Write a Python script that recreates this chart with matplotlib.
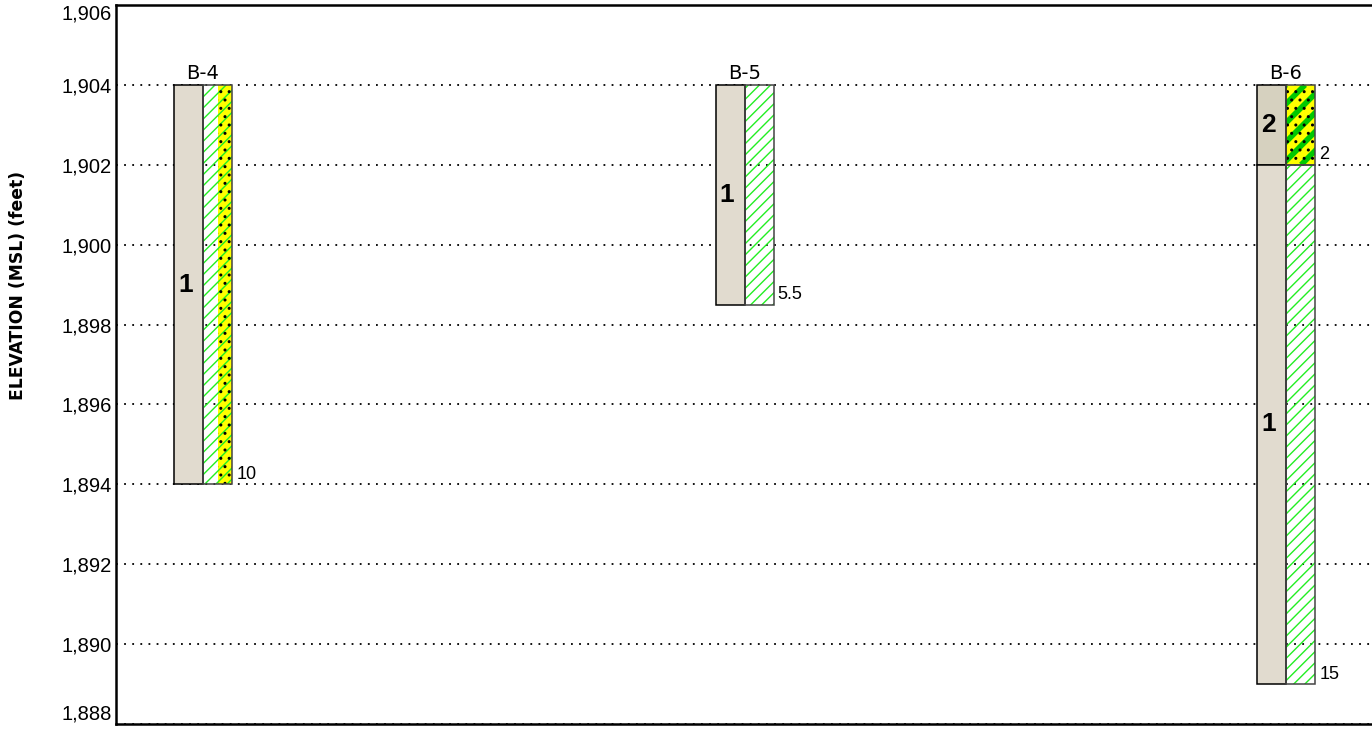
import numpy as np
import matplotlib
matplotlib.use("Agg")
import matplotlib.pyplot as plt
from matplotlib.patches import Rectangle
from matplotlib.ticker import FuncFormatter

# Bohrungen
borings = ["B-4", "B-5", "B-6"]
top_elev = [1904, 1904, 1904]

# Schichten (Stratum-Nummer), Tiefen in ft
strata_top = [[0], [0], [0, 2]]
strata_bottom = [[10], [5.5], [2, 15]]
strata_id = [[1], [1], [2, 1]]

# Bodenarten (Symbolspalte)
soil_top = [[0], [0], [0, 2]]
soil_bottom = [[10], [5.5], [2, 15]]
soil_type = [["CL-SP"], ["CL"], ["SC", "CL"]]

y_ticks = list(range(1888, 1907, 2))

plt.rcParams["hatch.linewidth"] = 1.0

W, H = 1372, 730
fig = plt.figure(figsize=(W / 100, H / 100), dpi=100)
ax_b, ax_t = 1 - 724 / H, 1 - 5 / H
ax = fig.add_axes([116 / W, ax_b, (1400 - 116) / W, ax_t - ax_b])
ax.set_xlim(0, 1284)
ax.set_ylim(1888, 1906)
ppf = (ax_t - ax_b) * H / 18  # Pixel pro Fuss

tan = {1: "#E1DBCF", 2: "#D6D1BF"}
green = "#22EE22"
col_w = 29


def soil_patch(kind, x, y0, y1):
    h = y1 - y0
    if kind == "CL":
        ax.add_patch(Rectangle((x, y0), col_w, h, facecolor="none", edgecolor=green,
                               hatch="///", lw=0, zorder=2))
    elif kind == "CL-SP":
        hw = col_w / 2
        ax.add_patch(Rectangle((x, y0), hw, h, facecolor="none", edgecolor=green,
                               hatch="///", lw=0, zorder=2))
        ax.add_patch(Rectangle((x + hw, y0), hw, h, facecolor="#FFFF00", edgecolor=green,
                               hatch="///", lw=0, zorder=2))
        ax.add_patch(Rectangle((x + hw, y0), hw, h, facecolor="none", edgecolor="black",
                               hatch="..", lw=0, zorder=3))
    elif kind == "SC":
        rect = Rectangle((x, y0), col_w, h, facecolor="#FFFF00", lw=0, zorder=2)
        ax.add_patch(rect)
        span = h * ppf
        for s in np.arange(x - span, x + col_w + 20, 19):
            ln, = ax.plot([s, s + span], [y0, y1], color="#00C800", lw=4,
                          solid_capstyle="butt", zorder=2.5)
            ln.set_clip_path(rect)
        ax.add_patch(Rectangle((x, y0), col_w, h, facecolor="none", edgecolor="black",
                               hatch="..", lw=0, zorder=3))
    ax.add_patch(Rectangle((x, y0), col_w, h, facecolor="none", edgecolor="#444444",
                           lw=1.1, zorder=4))


for i, name in enumerate(borings):
    x0 = 58 + 541.5 * i
    top = top_elev[i]
    for t, b, sid in zip(strata_top[i], strata_bottom[i], strata_id[i]):
        ax.add_patch(Rectangle((x0, top - b), col_w, b - t, facecolor=tan[sid],
                               edgecolor="black", lw=1.1, zorder=4))
        ax.text(x0 + col_w / 2 - 3, top - (t + b) / 2, str(sid), ha="center", va="center",
                fontsize=19, fontweight="bold", family="Liberation Sans", zorder=5)
    for t, b, kind in zip(soil_top[i], soil_bottom[i], soil_type[i]):
        soil_patch(kind, x0 + col_w, top - b, top - t)
        ax.annotate(f"{b:g}", (x0 + 2 * col_w, top - b), xytext=(3, 1),
                    textcoords="offset points", ha="left", va="bottom",
                    fontsize=13, family="Liberation Sans", zorder=5)
    ax.annotate(name, (x0 + col_w, top), xytext=(0, 1.5), textcoords="offset points",
                ha="center", va="bottom", fontsize=14, family="DejaVu Sans")

ax.set_yticks(y_ticks)
ax.yaxis.set_major_formatter(FuncFormatter(lambda v, p: f"{v:,.0f}"))
ax.tick_params(axis="y", length=0, pad=3, labelsize=14.5)
labs = ax.get_yticklabels()
for lab in labs:
    lab.set_family("Liberation Sans")
labs[0].set_va("bottom")
labs[-1].set_va("top")
ax.set_xticks([])
ax.yaxis.grid(True, color="black", lw=1.3, linestyle=(0, (1, 3.5)), zorder=1)
ax.set_axisbelow(True)
for s in ["left", "top", "bottom"]:
    ax.spines[s].set_linewidth(1.8)
ax.spines["right"].set_visible(False)

fig.text(18 / W, 1 - 285 / H, "ELEVATION (MSL) (feet)", rotation=90, ha="center",
         va="center", fontsize=12.3, fontweight="bold", family="DejaVu Sans")

fig.savefig("out.png", dpi=100)
